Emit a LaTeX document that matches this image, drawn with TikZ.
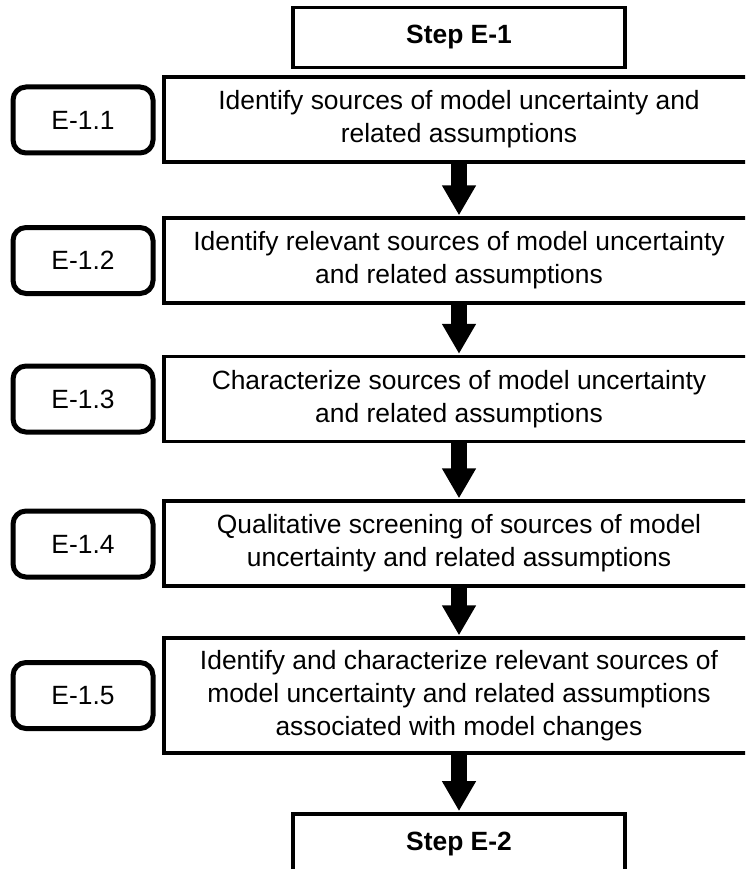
\documentclass[tikz,border=0pt]{standalone}
\usepackage{fontspec}
\setmainfont{Liberation Sans}
\usetikzlibrary{arrows.meta}
\begin{document}
\begin{tikzpicture}[x=1pt,y=-1pt,
  font=\fontsize{26.4}{33}\selectfont,
  stepbox/.style={draw, line width=3.8pt, minimum width=332pt, minimum height=60pt,
    inner sep=0pt, font=\fontsize{26.4}{33}\selectfont\bfseries},
  taskbox/.style={draw, line width=3.3pt, minimum width=590pt, minimum height=85pt,
    inner sep=0pt, align=center},
  tagbox/.style={draw, line width=5pt, rounded corners=13pt, minimum width=140pt,
    minimum height=66pt, inner sep=0pt},
  flow/.style={line width=16pt, -{Triangle[length=30pt 0 0, width=32pt 0 0]}, shorten >=1pt}]
  \useasboundingbox (0,0) rectangle (745,869);
  \clip (0,0) rectangle (745,869);

  % start and end steps
  \node[stepbox] (s1) at (459,37.5) {Step E-1};
  \node[stepbox] (s2) at (459,844) {Step E-2};

  % sub-step boxes
  \node[taskbox] (b1) at (459,119.5) {Identify sources of model uncertainty and\\related assumptions};
  \node[taskbox] (b2) at (459,260.5) {Identify relevant sources of model uncertainty\\and related assumptions};
  \node[taskbox] (b3) at (459,399) {Characterize sources of model uncertainty\\and related assumptions};
  \node[taskbox] (b4) at (459,543.5) {Qualitative screening of sources of model\\uncertainty and related assumptions};
  \node[taskbox, minimum height=115pt] (b5) at (459,695.5) {Identify and characterize relevant sources of\\model uncertainty and related assumptions\\associated with model changes};

  % sub-step labels
  \node[tagbox] (t1) at (83,120) {E-1.1};
  \node[tagbox] (t2) at (83,260.5) {E-1.2};
  \node[tagbox] (t3) at (83,399) {E-1.3};
  \node[tagbox] (t4) at (83,544) {E-1.4};
  \node[tagbox] (t5) at (83,695.5) {E-1.5};

  % flow arrows
  \draw[flow] (b1.south) -- (b2.north);
  \draw[flow] (b2.south) -- (b3.north);
  \draw[flow] (b3.south) -- (b4.north);
  \draw[flow] (b4.south) -- (b5.north);
  \draw[flow] (b5.south) -- (s2.north);
\end{tikzpicture}
\end{document}
